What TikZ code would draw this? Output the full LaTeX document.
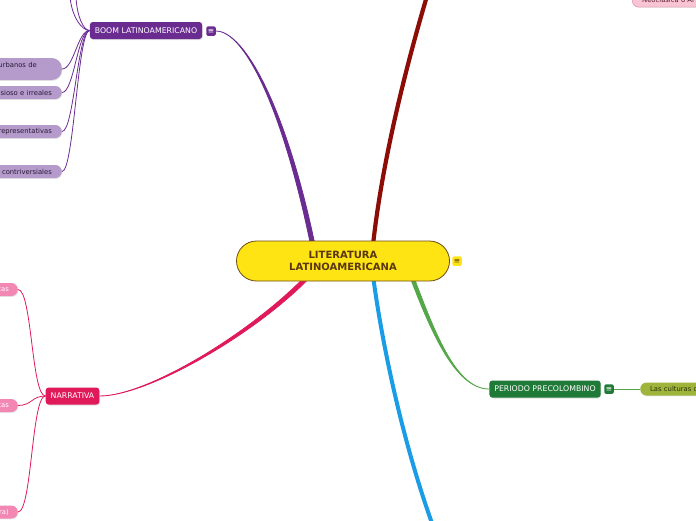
\documentclass[tikz,border=0pt]{standalone}
\usepackage{fontspec}
\setmainfont{DejaVu Sans}
\usepackage{tikz}
\usetikzlibrary{calc, shadows, backgrounds}
\usepackage{xcolor}
\definecolor{litcolor}{RGB}{255,228,20}
\definecolor{litborder}{RGB}{110,75,20}
\definecolor{littext}{RGB}{90,55,15}
\definecolor{boomcolor}{RGB}{106,44,145}
\definecolor{boomleaf}{RGB}{181,155,203}
\definecolor{boomtext}{RGB}{40,25,55}
\definecolor{narrcolor}{RGB}{224,25,90}
\definecolor{narrleaf}{RGB}{241,135,178}
\definecolor{precolor}{RGB}{30,122,54}
\definecolor{prebranch}{RGB}{84,166,72}
\definecolor{cultcolor}{RGB}{158,180,58}
\definecolor{culttext}{RGB}{45,50,10}
\definecolor{redbranch}{RGB}{140,12,6}
\definecolor{bluebranch}{RGB}{27,156,230}
\definecolor{neocolor}{RGB}{249,196,211}
\definecolor{neoborder}{RGB}{225,128,160}
\definecolor{neotext}{RGB}{90,26,48}

\begin{document}
\begin{tikzpicture}[x=1pt, y=-1pt,
    central/.style={rectangle, rounded corners=20pt, draw=litborder, line width=0.8pt, fill=litcolor, minimum width=213pt, minimum height=40pt, align=center, text=littext, font=\fontsize{10}{12}\selectfont\bfseries},
    topic/.style={rectangle, rounded corners=3pt, minimum height=17pt, inner xsep=5pt, text=white, font=\fontsize{7.8}{9}\selectfont, drop shadow={opacity=0.25, shadow xshift=0.6pt, shadow yshift=-1pt}},
    icon/.style={rectangle, rounded corners=1.5pt, minimum size=9.5pt, inner sep=0pt, font=\fontsize{7.5}{7.5}\selectfont},
    leaf/.style={rectangle, rounded corners=6.5pt, minimum height=13pt, inner xsep=10pt, inner ysep=2pt, text width=90pt, font=\fontsize{6.8}{8.5}\selectfont, drop shadow={opacity=0.2, shadow xshift=0.5pt, shadow yshift=-0.9pt}},
    branch/.style={line width=0.8pt}
]
\useasboundingbox (0,0) rectangle (696,520);

\node[central] (lit) at (343,261) {LITERATURA\\LATINOAMERICANA};
\node[icon, fill=litcolor, text=littext] (liticon) at (457,261) {≡};

\node[topic, fill=boomcolor] (boom) at (146,30.5) {BOOM LATINOAMERICANO};
\node[icon, fill=boomcolor, text=white] (boomicon) at (211,31) {≡};
\node[leaf, fill=boomleaf, text=boomtext, anchor=east, align=right, rounded corners=10pt, minimum height=22pt] (urb) at (62,69) {urbanos de\kern15pt\\\mbox{}};
\node[leaf, fill=boomleaf, text=boomtext, anchor=east, align=right] (irr) at (62,92.5) {sioso e irreales};
\node[leaf, fill=boomleaf, text=boomtext, anchor=east, align=right] (rep) at (62,131.5) {representativas};
\node[leaf, fill=boomleaf, text=boomtext, anchor=east, align=right] (con) at (62,171.5) {contriversiales};
\coordinate (boomup1) at (70,-3);
\coordinate (boomup2) at (76,-3);

\node[topic, fill=narrcolor] (narr) at (72.5,396) {NARRATIVA};
\node[leaf, fill=narrleaf, text=white, anchor=east, align=right, inner xsep=9pt] (narra) at (18,289.5) {cas};
\node[leaf, fill=narrleaf, text=white, anchor=east, align=right, inner xsep=9pt] (narrb) at (18,405.5) {cas};
\node[leaf, fill=narrleaf, text=white, anchor=east, align=right, inner xsep=9pt] (narrc) at (18,512) {ra)};

\node[topic, fill=precolor] (prec) at (545,389) {PERIODO PRECOLOMBINO};
\node[icon, fill=precolor, text=white] (precicon) at (609,389) {≡};
\node[leaf, fill=cultcolor, text=culttext, anchor=west, align=left] (cult) at (640,389) {Las culturas d};

\node[leaf, fill=neocolor, draw=neoborder, text=neotext, anchor=west, align=left, minimum height=14pt] (neo) at (632,0) {Neoclásica o Al};

\coordinate (redend) at (427,-4);
\coordinate (blueend) at (433,526);

\begin{scope}[on background layer]
\draw[redbranch, line width=4.2pt] ($(lit.center)+(29,-6)$) .. controls (380,170) and (405,70) .. (redend);
\draw[bluebranch, line width=4pt] ($(lit.center)+(29,7)$) .. controls (381,340) and (402,440) .. (blueend);
\filldraw[boomcolor, line width=0.8pt] (boomicon.east) .. controls (245,31) and (287,110) .. ($(lit.center)+(-27.8,-15)$) -- ($(lit.center)+(-32.2,-15)$) .. controls (283,110) and (245,31) .. (boomicon.east) -- cycle;
\filldraw[narrcolor, line width=0.8pt] (narr.east) .. controls (150,396) and (263.5,329.4) .. ($(lit.center)+(-26.5,9.4)$) -- ($(lit.center)+(-29.5,6.6)$) .. controls (260.5,326.6) and (150,396) .. (narr.east) -- cycle;
\filldraw[prebranch, line width=0.8pt] (prec.west) .. controls (455,389) and (433.7,329.35) .. ($(lit.center)+(68.7,10.35)$) -- ($(lit.center)+(65.3,11.65)$) .. controls (430.3,330.65) and (455,389) .. (prec.west) -- cycle;

\foreach \leafname in {urb, irr, rep, con}
  \draw[branch, boomcolor] (boom.west) .. controls +(-12,0) and +(12,0) .. (\leafname.east);
\draw[branch, boomcolor] (boom.west) .. controls +(-8,0) and +(2,20) .. (boomup1);
\draw[branch, boomcolor] (boom.west) .. controls +(-6,0) and +(1,20) .. (boomup2);
\foreach \leafname in {narra, narrb, narrc}
  \draw[branch, narrcolor] (narr.west) .. controls +(-14,0) and +(14,0) .. (\leafname.east);
\draw[branch, prebranch] (precicon.east) -- (cult.west);
\end{scope}
\end{tikzpicture}
\end{document}
